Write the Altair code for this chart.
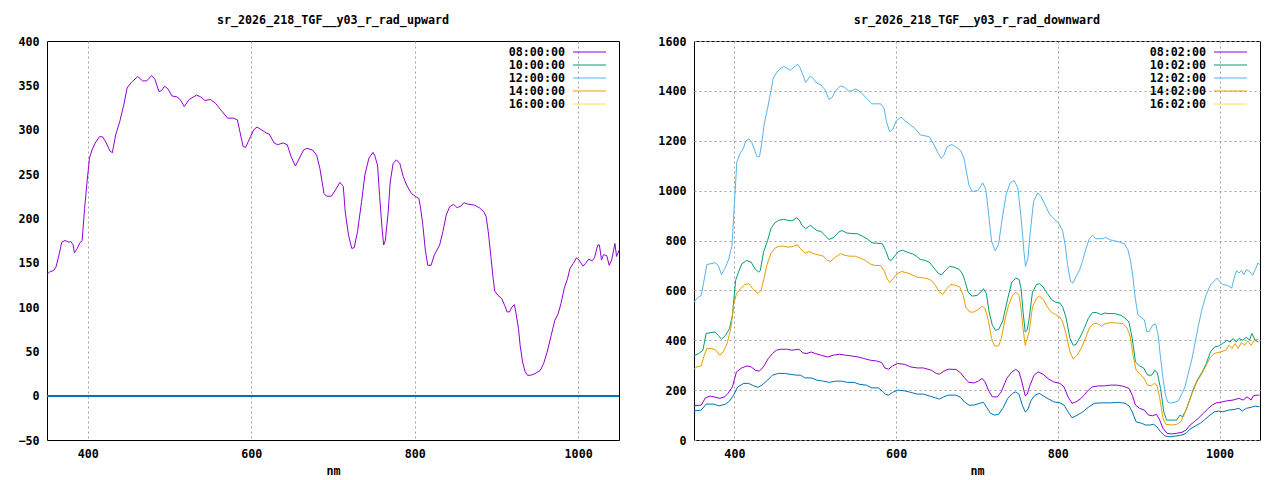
import altair as alt
import pandas as pd

FONT = "DejaVu Sans Mono"
FS = 11.7
FW = "bold"

UP_TITLE = "sr_2026_218_TGF__y03_r_rad_upward"
DOWN_TITLE = "sr_2026_218_TGF__y03_r_rad_downward"
X_TITLE = "nm"
UP_TIMES = ["08:00:00", "10:00:00", "12:00:00", "14:00:00", "16:00:00"]
DOWN_TIMES = ["08:02:00", "10:02:00", "12:02:00", "14:02:00", "16:02:00"]
COLORS = ["#9400d3", "#009e73", "#56b4e9", "#e69f00", "#f0e442"]
EXTRA_COLOR = "#0072b2"

X_TICKS = [400, 600, 800, 1000]
UP_Y_TICKS = [-50, 0, 50, 100, 150, 200, 250, 300, 350, 400]
DOWN_Y_TICKS = [0, 200, 400, 600, 800, 1000, 1200, 1400, 1600]

# upward, 08:00:00  [nm, value]
UP_0800 = [[350,137],[354,140],[358,141],[361,145],[365,160],[368,173],[372,175],[377,173],[379,174],[382,170],
 [383.5,161],[387,166],[390,172],[393,175],[396,211],[399,241],[402,268],[405,277],[409,285],[414,292],[418,292],
 [422,286],[427,276],[430,274],[434,294],[439,309],[444,328],[448,347],[453,353],[461,360],[467,355],[472,355],
 [478,361],[482,357],[487,343],[490,344],[494,349],[498,346],[503,338],[509,337],[513,334],[518,326],[524,334],
 [533,339],[538,337],[543,333],[550,334],[556,330],[563,322],[571,313],[578,313],[583,311],[586,298],[590,281],
 [593,280],[599,292],[603,300],[607,303],[612,300],[619,296],[622,295],[628,285],[632,283],[639,285],[644,283],
 [649,269],[654,259],[659,268],[664,277],[668,279],[675,277],[680,271],[684,256],[689,228],[692,225],[698,225],
 [703,232],[708.5,240.6],[712.6,236],[715,207],[719,181],[723,166],[726,167],[730,185],[735,219],[739,249],
 [744,268],[749,274.5],[751,271],[754.5,260],[757,226],[760,189],[762,170],[764,175],[767.5,207],[770,241],
 [773.6,262],[777.6,266],[781.7,262],[786,247],[790,237.6],[796,228],[802,224],[805,222.5],[807,213],[810,192],
 [813,164],[816,147],[820,147],[824,158.5],[830.5,170],[834.5,185],[838.6,203.7],[842.7,213],[847.6,215.7],
 [852,212],[857,214],[860,217.6],[865,216],[873,215],[879,212],[884.6,207.4],[887.4,201.8],[890,185],[893.5,154.7],
 [896,132],[898,117.8],[902,113],[906.5,109.5],[910,102],[913,94.5],[916,94.5],[919,100],[922,102.7],[924,92.6],
 [927,75.6],[929,56.8],[932,38],[935,27.4],[938,23],[942,23],[947,24.8],[953.6,28.5],[957.7,36],[962,49],[967,68],
 [971.5,85],[975.6,92.5],[979,104],[983,121],[987,132],[990,143.4],[994,149],[998,155.5],[1001,153],[1006,146],
 [1009,149],[1013,154],[1017,152],[1020,155.5],[1024,170],[1026,170],[1028.6,153],[1031,159],[1035,158],[1038,147],
 [1041,153],[1043,162],[1045,171.6],[1047,157],[1050,164]]

# downward, 12:02:00
DOWN_1202 = [[350,553],[354,569],[359,580],[362,633],[366,704],[371,707],[376,711],[380,700],[384,664],[389,693],
 [393,726],[397,780],[399.6,928],[403,1115],[407,1149],[411,1169],[414,1199],[418,1207],[421.5,1193],[425,1162],
 [428,1136],[431,1136],[434,1196],[437,1270],[441,1330],[445,1397],[448,1451],[452.5,1475],[456.6,1489],[461,1498],
 [465,1491],[469,1482],[473,1494],[478.5,1507],[481,1494],[484.7,1464],[488,1434],[494,1460],[498,1447],[502,1431],
 [507,1424],[512,1404],[517,1366],[520.6,1373],[525,1400],[531,1420],[536,1415],[541,1400],[545,1400],[550,1408],
 [556,1395],[562,1375],[570,1348],[575,1348],[581,1348],[585,1330],[588,1277],[592,1236],[596,1247],[600,1279],
 [606,1295],[611.5,1279],[618,1263],[624,1247],[630,1223],[635.5,1220],[641,1216],[647,1183],[652,1149],[656,1129],
 [659,1142],[663,1176],[668.6,1185],[673.5,1176],[680,1160],[684,1129],[687,1075],[690,1022],[694,997],[701,1000],
 [707,1031],[711,1004],[714,917],[718,797],[722.5,759],[726.6,783],[730.7,877],[736,984],[741,1031],[746,1040],
 [750.5,1011],[754.6,890],[758,757],[760,696],[763,730],[766,837],[770,957],[775,991],[779,977],[784,944],
 [789.7,906],[796,884],[801,870],[806,837],[809,783],[812,703],[815.7,636],[818.6,629],[822.7,656],[827,683],
 [831,723],[835,770],[839,807],[843,821],[847,807],[851.5,807],[855.7,807],[859,813],[864,803],[870,799],[876,794],
 [882.5,786],[886.6,763],[890,716],[893,649],[895.7,569],[899,502],[904,489],[907,482],[910,435],[913,435],
 [917.5,462],[921,465],[924,422],[926.6,342],[930,248],[933,181],[936,152],[940,148],[945,152],[949,157],
 [952.6,181],[956.7,208],[961,262],[966,328],[970,395],[974,462],[978.6,529],[983.5,583],[989,623],[993,636],
 [997,649],[1000,636],[1004,623],[1010,620],[1015,609],[1018,649],[1021,679],[1024,670],[1027,680],[1030,663],
 [1033,683],[1037,676],[1041,660],[1044,683],[1047.5,710],[1049.5,703]]

# downward, 10:02:00
DOWN_1002 = [[350,337],[356,347],[361,360],[365,427],[371,431],[376,433],[380,420],[384,404],[389,420],[394,447],
 [397.5,500],[401.5,640],[405,673],[409,706],[415,720],[420.7,713],[425.6,686],[430,673],[432,680],[436,753],
 [441,800],[445,847],[450,871],[455,881],[461,885],[466,881],[471,879],[477,891],[480,883],[483.5,861],[488,847],
 [494,861],[498,850],[502,840],[507,836],[512,820],[517,804],[523,813],[529,834],[533,840],[539,830],[545,828],
 [552,827],[558,818],[564,807],[570,791],[576,789],[583,787],[587,760],[591,724],[594,720],[598,737],[603,756],
 [608,761],[613.6,753],[620,747],[625,737],[630,724],[636,720],[641,713],[647,689],[652,669],[656,662],[661,680],
 [666,696],[671.5,693],[678,684],[682,666],[685,639],[689,593],[694,577],[700,580],[705.5,596],[708,607],
 [711.6,587],[715,513],[719,460],[723,440],[727,444],[732,480],[738,567],[743,633],[748,649],[752,644],[754.5,607],
 [757,513],[759.6,433],[762,440],[764.5,487],[768.6,593],[773.6,623],[777,627],[782,613],[787,587],[792,564],
 [797,553],[802.5,549],[806,533],[810,493],[815,407],[819,380],[822.5,383],[827.6,413],[832.6,447],[837.6,487],
 [842.7,511],[848,511],[853,503],[858,509],[863,507],[870,507],[878,500],[883,489],[888,473],[892,407],[896,313],
 [901,297],[906,289],[911,260],[916,260],[920,280],[923,269],[927,207],[931,113],[934.5,80],[941,80],[947,80],
 [951,100],[954,93],[958.6,120],[963.6,167],[968.6,213],[973.6,247],[978.6,273],[983.6,307],[988.7,353],
 [993.7,373],[998.7,377],[1004,387],[1009,400],[1013,393],[1016.6,407],[1020.6,393],[1024,407],[1029,400],
 [1033,413],[1037,400],[1040,427],[1044,400],[1048,393]]

# downward, 14:02:00
DOWN_1402 = [[350,284],[353.5,293],[359,297],[362,333],[366,367],[372,367],[377,360],[382,340],[386,353],[391,387],
 [395.5,447],[399,540],[402.5,587],[407.6,607],[412.6,623],[417.6,627],[422.7,607],[429,587],[433,600],[437,653],
 [440,700],[445,747],[450,769],[455,777],[461,777],[467,773],[473,777],[478.5,783],[481,769],[487.6,749],
 [492.6,756],[498,747],[504,742],[510,737],[514,722],[518.6,716],[525,733],[531,747],[537,740],[543,737],
 [549.6,737],[556,729],[562,720],[568,706],[573.5,700],[580.6,700],[585,680],[589,646],[592,632],[597,649],
 [601,666],[606.6,676],[613.6,670],[620,662],[626,653],[633.5,650],[638.5,647],[643.5,640],[648.6,620],
 [653.6,593],[657.6,584],[662.7,607],[667.7,624],[673.8,620],[678.8,613],[683,580],[686,533],[691,513],[696,513],
 [701.5,523],[706.5,536],[710,527],[714,480],[718,407],[721.7,377],[726.7,377],[730,407],[734,473],[739,540],
 [744,580],[748,593],[752,580],[754.5,527],[757,447],[759.6,380],[762,407],[764.5,433],[768.6,533],[773.6,569],
 [777,577],[782,564],[787,533],[792,513],[797,503],[802.5,493],[806,473],[810,427],[815,353],[819,324],[824,340],
 [829,369],[834,407],[839,449],[844,467],[849,467],[854,457],[859,467],[865,471],[873,469],[880.5,467],
 [885.6,449],[889.6,413],[893,340],[896.8,280],[901.8,263],[906.8,247],[911,220],[916,217],[919,227],[922.5,220],
 [926,167],[930,87],[933.5,63],[941,60],[947,63],[952,73],[956,100],[961,140],[966,187],[972,233],[977,260],
 [983.6,300],[988.7,333],[993.7,347],[1001,353],[1007.6,360],[1011.6,380],[1015.6,367],[1019,387],[1023,367],
 [1027,391],[1031,380],[1035,396],[1039,380],[1043,400],[1048,404]]

# downward, 08:02:00
DOWN_0802 = [[350,137],[359,140],[364,169],[370,176],[376,172],[382,167],[388,173],[392,187],[397.5,213],
 [402.5,273],[409,289],[415.6,297],[420.7,293],[425.7,280],[430.8,276],[435.8,293],[442,327],[447,347],[452,360],
 [458,364],[464.5,364],[471,360],[479.7,364],[484.7,349],[489.7,347],[494.8,353],[499.8,347],[507,340],[515,333],
 [522.5,340],[530,344],[537.6,340],[545,337],[552.8,333],[560,327],[568,320],[575.5,317],[582,311],[586,289],
 [590.6,284],[595.6,297],[602,307],[610.7,303],[618,293],[626,289],[633.5,289],[643.5,280],[649.6,267],[653.6,264],
 [658.7,276],[664.7,284],[673.8,283],[679.8,269],[685,247],[690,231],[696.5,229],[701.5,236],[706.5,247],[710,233],
 [714,200],[719,173],[725,173],[730,193],[736.8,247],[743,273],[748,283],[752,273],[755.5,233],[759.6,177],
 [762,183],[765.6,220],[770.6,260],[775.6,273],[782,263],[788.7,244],[795,233],[802.5,227],[807.6,213],
 [812.6,173],[817.5,147],[822.5,153],[827.6,164],[832.6,180],[837.6,200],[842.7,213],[850,217],[858,217],
 [865,220],[873,220],[880.5,216],[888,207],[892,180],[896,140],[901,127],[907,120],[912,100],[917,97],[922,103],
 [926,80],[930,47],[935,27],[941,24],[947,27],[953.6,31],[958.6,40],[963.6,60],[968.6,73],[973.6,87],[980,107],
 [986,127],[991,140],[996,149],[1001,151],[1009,157],[1016.6,160],[1024,167],[1029,160],[1034,173],[1039,160],
 [1041.6,177],[1046.7,180],[1049.5,180]]

# downward, lowest (dark blue) curve
DOWN_EXTRA = [[350,117],[359,120],[365,144],[374,144],[381,137],[389,144],[394,156],[399,180],[404,213],
 [411.6,227],[417.6,227],[424,217],[429,211],[434,220],[441,240],[447,260],[454.5,267],[462,267],[469.6,263],
 [477,260],[482,260],[487,249],[494.8,249],[502,240],[510,236],[517.5,231],[525,236],[532.6,236],[540,231],
 [548,231],[555,223],[563,220],[570,209],[578,209],[583,196],[587,183],[590.6,180],[595.6,191],[602,200],
 [610.7,197],[618,191],[626,184],[633.5,184],[641,177],[648.6,169],[653.6,164],[658.7,173],[664.7,180],
 [673.8,180],[679.8,171],[685,151],[690,140],[696.5,140],[703,147],[708,151],[711.6,133],[716.6,107],[721.7,100],
 [726.7,103],[732,127],[738,167],[744,187],[748,193],[752,183],[756,140],[759.6,113],[762.6,120],[767,160],
 [772,180],[777,187],[782,177],[788.7,164],[795,153],[802.5,149],[807.6,140],[812.6,113],[817.5,89],[822.5,97],
 [830,111],[837.6,131],[845,147],[855,149],[865,149],[875,151],[883,147],[888,137],[892,113],[896.8,73],
 [903.6,67],[908.6,60],[913.6,60],[918.6,63],[922.5,53],[927,33],[932.6,16],[938.6,13],[946,16],[953.6,20],
 [958.6,27],[963.6,44],[970,56],[976,67],[981,80],[987,97],[993.7,113],[998.7,116],[1004,113],[1011.6,120],
 [1019,123],[1024,127],[1028,116],[1033,127],[1039,131],[1044,136],[1049.5,133]]


def frame(pairs, name):
    return pd.DataFrame({"nm": [p[0] for p in pairs], "value": [p[1] for p in pairs], "time": name})


def x_enc():
    return alt.X("nm:Q", scale=alt.Scale(domain=[350, 1050], nice=False, zero=False),
                 axis=alt.Axis(values=X_TICKS, title=X_TITLE, format="d"))


def key_layer(times, plot_w):
    """Gnuplot-style key: right-justified text followed by a line sample, top-right inside the plot."""
    kdf = pd.DataFrame({"time": times, "color": COLORS})
    ky = alt.Y("time:N", scale=alt.Scale(type="point", domain=times, range=[11, 63], padding=0), axis=None)
    line_end = plot_w - 13
    line_start = line_end - 33
    text = alt.Chart(kdf).mark_text(align="right", baseline="middle", font=FONT, fontSize=FS,
                                    fontWeight=FW, color="black").encode(
        x=alt.value(line_start - 8), y=ky, text="time:N")
    sample = alt.Chart(kdf).mark_rule(strokeWidth=1).encode(
        x=alt.value(line_start), x2=alt.value(line_end), y=ky,
        color=alt.Color("color:N", scale=None))
    return alt.layer(text, sample)


def title(text):
    return alt.Title(text, font=FONT, fontSize=FS, fontWeight=FW, color="black",
                     offset=9, frame="group", anchor="middle")


LEFT_W, RIGHT_W, H = 572, 566, 399

up_df = frame(UP_0800, UP_TIMES[0])
up_y = alt.Y("value:Q", scale=alt.Scale(domain=[-50, 400], nice=False, zero=False),
             axis=alt.Axis(values=UP_Y_TICKS, title=None, format="d"))
up_lines = alt.Chart(up_df).mark_line(strokeWidth=1).encode(
    x=x_enc(), y=up_y,
    color=alt.Color("time:N", scale=alt.Scale(domain=UP_TIMES, range=COLORS), legend=None))
up_zero = alt.Chart(up_df).mark_rule(color=EXTRA_COLOR, strokeWidth=1.5).encode(y=alt.datum(0))
data_left = alt.layer(up_zero, up_lines)
left = alt.layer(data_left, key_layer(UP_TIMES, LEFT_W)).resolve_scale(
    y="independent", color="independent").properties(width=LEFT_W, height=H, title=title(UP_TITLE))

down_df = pd.concat([frame(DOWN_0802, DOWN_TIMES[0]), frame(DOWN_1002, DOWN_TIMES[1]),
                     frame(DOWN_1202, DOWN_TIMES[2]), frame(DOWN_1402, DOWN_TIMES[3])])
extra_df = frame(DOWN_EXTRA, "extra")
down_y = alt.Y("value:Q", scale=alt.Scale(domain=[0, 1600], nice=False, zero=False),
               axis=alt.Axis(values=DOWN_Y_TICKS, title=None, format="d"))
down_lines = alt.Chart(down_df).mark_line(strokeWidth=1).encode(
    x=x_enc(), y=down_y,
    color=alt.Color("time:N", scale=alt.Scale(domain=DOWN_TIMES, range=COLORS), legend=None),
    detail="time:N")
down_extra = alt.Chart(extra_df).mark_line(strokeWidth=1, color=EXTRA_COLOR).encode(x=x_enc(), y=down_y)
data_right = alt.layer(down_extra, down_lines)
right = alt.layer(data_right, key_layer(DOWN_TIMES, RIGHT_W)).resolve_scale(
    y="independent", color="independent").properties(width=RIGHT_W, height=H, title=title(DOWN_TITLE))

chart = alt.hconcat(left, right, spacing=35).resolve_scale(color="independent", y="independent").properties(
        padding={"left": 9, "top": 6, "right": 5, "bottom": 5}, background="white"
    ).configure_view(stroke="black", strokeWidth=1).configure_axis(
        labelFont=FONT, labelFontSize=FS, labelFontWeight=FW, labelColor="black", titleFont=FONT,
        titleFontSize=FS, titleFontWeight=FW, titleColor="black", domain=False, tickSize=0, labelPadding=8,
        gridColor="#a0a0a0", gridDash=[2, 3], gridWidth=1, gridOpacity=1
    ).configure_axisX(titlePadding=6)

chart.save("out.html", embed_options={"renderer": "svg", "actions": False})
